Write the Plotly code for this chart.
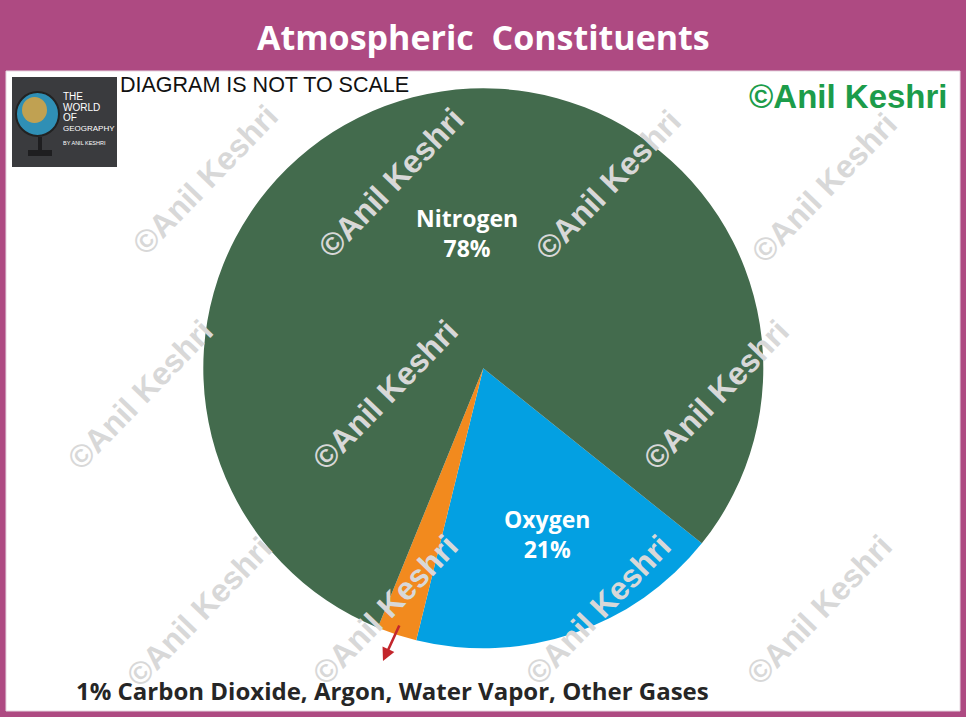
import plotly.graph_objects as go

W, H = 966, 717

# ---- data ----
gases = ["Oxygen", "Other Gases", "Nitrogen"]
slice_share = [18.1, 2.3, 79.6]          # visual sizes (not to scale)
label_share = ["21%", "1%", "78%"]       # printed percentages
slice_colors = ["#03A0E2", "#F28A1E", "#436B4D"]

title_text = "Atmospheric  Constituents"
note_text = "DIAGRAM IS NOT TO SCALE"
footer_text = "1% Carbon Dioxide, Argon, Water Vapor, Other Gases"
credit_text = "©Anil Keshri"

def px(x):
    return x / W

def py(y):
    return 1 - y / H

fig = go.Figure()

cx, cy, r = 483.3, 368.3, 280
fig.add_trace(go.Pie(
    labels=gases,
    values=slice_share,
    sort=False,
    direction="clockwise",
    rotation=128.7,
    marker=dict(colors=slice_colors, line=dict(width=0)),
    textinfo="none",
    hoverinfo="label",
    showlegend=False,
    domain=dict(x=[px(cx - r), px(cx + r)], y=[py(cy + r), py(cy - r)]),
))

shapes = []
# white panel inside purple frame
shapes.append(dict(type="rect", xref="paper", yref="paper",
                   x0=px(6), x1=px(960), y0=py(711), y1=py(71),
                   fillcolor="white", line=dict(color="#E6D6E0", width=1), layer="below"))
# logo block
shapes.append(dict(type="rect", xref="paper", yref="paper",
                   x0=px(12), x1=px(117), y0=py(167), y1=py(77),
                   fillcolor="#3A3B3E", line=dict(width=0), layer="above"))
# globe stand
shapes.append(dict(type="rect", xref="paper", yref="paper",
                   x0=px(28), x1=px(52), y0=py(156), y1=py(150),
                   fillcolor="#1E1E20", line=dict(width=0), layer="above"))
shapes.append(dict(type="rect", xref="paper", yref="paper",
                   x0=px(38), x1=px(42), y0=py(150), y1=py(137),
                   fillcolor="#1E1E20", line=dict(width=0), layer="above"))
# globe
shapes.append(dict(type="circle", xref="paper", yref="paper",
                   x0=px(16), x1=px(59), y0=py(136), y1=py(92),
                   fillcolor="#2F8FB5", line=dict(color="#222", width=2), layer="above"))
shapes.append(dict(type="circle", xref="paper", yref="paper",
                   x0=px(22), x1=px(47), y0=py(123), y1=py(97),
                   fillcolor="#D9A441", line=dict(width=0), layer="above", opacity=0.85))

annotations = []
# title
annotations.append(dict(x=0.5, y=py(37), xref="paper", yref="paper", text=title_text,
                        showarrow=False, xanchor="center", yanchor="middle",
                        font=dict(family="Open Sans", size=34, color="white", weight="bold")))
# note
annotations.append(dict(x=px(118), y=py(85), xref="paper", yref="paper", text=note_text,
                        showarrow=False, xanchor="left", yanchor="middle",
                        font=dict(family="Liberation Sans", size=21.5, color="#111111")))
# credit
annotations.append(dict(x=px(950), y=py(96), xref="paper", yref="paper", text=credit_text,
                        showarrow=False, xanchor="right", yanchor="middle",
                        font=dict(family="Liberation Sans", size=33, color="#1C9C4A", weight="bold")))
# logo text
logo_lines = ["THE", "WORLD", "OF", "GEOGRAPHY", "BY ANIL KESHRI"]
logo_y = [97, 107, 118, 129, 143]
logo_size = [10, 10, 10, 8, 5.5]
for t, yy, s in zip(logo_lines, logo_y, logo_size):
    annotations.append(dict(x=px(61), y=py(yy), xref="paper", yref="paper", text=t,
                            showarrow=False, xanchor="left", yanchor="middle",
                            font=dict(family="Liberation Sans", size=s, color="white")))

# watermarks
wm_centers = [(205, 180), (391, 183), (608, 185), (824, 188),
              (140, 395), (385, 395), (716, 395),
              (199, 612), (385, 610), (598, 610), (819, 610)]
for (wx, wy) in wm_centers:
    annotations.append(dict(x=px(wx), y=py(wy), xref="paper", yref="paper", text=credit_text,
                            showarrow=False, xanchor="center", yanchor="middle", textangle=-46,
                            font=dict(family="Liberation Sans", size=32, color="#D8D8D8", weight="bold")))

# slice labels
annotations.append(dict(x=px(467), y=py(233), xref="paper", yref="paper",
                        text=f"{gases[2]}<br>{label_share[2]}",
                        showarrow=False, xanchor="center", yanchor="middle",
                        font=dict(family="Open Sans", size=23, color="white", weight="bold")))
annotations.append(dict(x=px(547), y=py(534), xref="paper", yref="paper",
                        text=f"{gases[0]}<br>{label_share[0]}",
                        showarrow=False, xanchor="center", yanchor="middle",
                        font=dict(family="Open Sans", size=23, color="white", weight="bold")))

# red arrow
annotations.append(dict(x=px(383), y=py(661), xref="paper", yref="paper", text="",
                        showarrow=True, axref="pixel", ayref="pixel", ax=17, ay=-37,
                        arrowhead=2, arrowsize=1, arrowwidth=2.6, arrowcolor="#C3262C"))

# footer
annotations.append(dict(x=px(392), y=py(690), xref="paper", yref="paper", text=footer_text,
                        showarrow=False, xanchor="center", yanchor="middle",
                        font=dict(family="Open Sans", size=24, color="#262626", weight="bold")))

fig.update_layout(
    width=W, height=H,
    margin=dict(l=0, r=0, t=0, b=0),
    paper_bgcolor="#AE4A82",
    plot_bgcolor="white",
    shapes=shapes,
    annotations=annotations,
)

fig.write_html("out.html", config={"displayModeBar": False},
               post_script="document.body.style.margin='0px';document.body.style.overflow='hidden';")
